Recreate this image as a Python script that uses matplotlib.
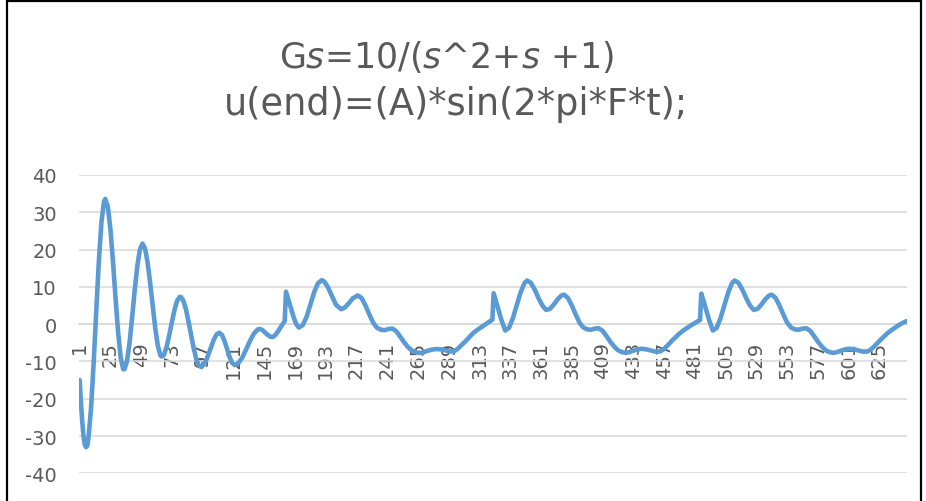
import matplotlib
matplotlib.use("Agg")
import matplotlib.pyplot as plt
from matplotlib.patches import Rectangle

# ---- data ----
title_line1 = r"G$s$=10/($s$^2+$s$ +1)"
title_line2 = "u(end)=(A)*sin(2*pi*F*t);"

n_categories = 646

sample_index = [
    1, 2, 3, 4, 5, 6, 7, 8, 10, 12, 14, 16, 18, 20, 21, 23, 25, 27, 29, 31, 33, 35, 36,
    38, 40, 42, 44, 46, 48, 50, 52, 54, 56, 58, 60, 62, 64, 65, 66, 67, 69, 71, 73, 75,
    77, 79, 80, 82, 84, 86, 88, 90, 92, 94, 96, 98, 100, 102, 104, 106, 108, 110, 112,
    114, 116, 118, 120, 122, 125, 128, 131, 134, 137, 140, 142, 144, 147, 150, 152, 154,
    156, 158, 160, 161, 162, 165, 168, 170, 172, 175, 178, 181, 184, 187, 190, 192, 195,
    198, 201, 205, 208, 211, 214, 218, 221, 224, 227, 230, 233, 236, 239, 242, 245, 248,
    251, 254, 257, 260, 263, 266, 269, 272, 275, 278, 281, 284, 287, 290, 293, 296, 299,
    302, 305, 308, 311, 314, 317, 320, 323, 324, 327, 330, 333, 336, 339, 342, 345, 348,
    350, 353, 356, 359, 362, 365, 368, 371, 374, 377, 379, 382, 385, 388, 391, 394, 397,
    400, 403, 406, 409, 412, 415, 418, 421, 424, 427, 430, 433, 436, 439, 442, 445, 448,
    451, 454, 457, 460, 463, 466, 469, 472, 475, 478, 481, 484, 485, 486, 489, 492, 495,
    498, 501, 504, 507, 510, 512, 515, 518, 521, 524, 527, 530, 533, 536, 539, 541, 544,
    547, 550, 553, 556, 559, 562, 565, 568, 571, 574, 577, 580, 583, 586, 589, 592, 595,
    598, 601, 604, 607, 610, 613, 616, 619, 622, 625, 628, 631, 634, 637, 640, 643, 646,
]

response = [
    -15, -21, -26, -30, -32.3, -33, -32.6, -30.1, -22.0, -10.0, 3.8, 17.0, 27.3, 32.9, 33.6,
    31.5, 25.5, 16.8, 7.0, -2.1, -8.9, -12.1, -12.1,
    -9.8, -4.8, 2.0, 9.2, 15.6, 20.0, 21.6, 20.3, 16.6, 11.1, 4.9, -1.1, -5.8, -8.4, -8.7,
    -8.5, -8.0, -5.9, -2.8, 0.6, 3.8,
    6.2, 7.3, 7.3, 6.2, 3.9, 0.6, -3.0, -6.5, -9.4, -11.1, -11.5, -10.8, -9.5, -7.6, -5.7,
    -3.9, -2.7, -2.3, -2.9,
    -4.5, -6.65, -8.8, -10.4, -11.0, -10.4, -8.9, -6.7, -4.4, -2.5, -1.4, -1.3, -1.7, -2.7,
    -3.4, -3.4, -2.8,
    -1.8, -0.7, 0.3, 0.8, 8.7, 5.2, 1.8, 0.0, -0.9, -0.3, 1.9, 5.2, 8.6, 11.0, 11.8, 11.4, 9.7,
    7.4, 5.2, 4.0, 4.5, 5.6, 6.9, 7.7, 7.0, 5.0, 2.6, 0.4, -1.0, -1.5, -1.6, -1.3, -1.2, -1.9,
    -3.3, -4.8, -6.1, -7.0, -7.5, -7.7, -7.6, -7.2, -6.9, -6.7, -6.7, -6.8, -7.1, -7.3, -7.3,
    -6.6, -5.6,
    -4.6, -3.5, -2.4, -1.6, -0.9, -0.2, 0.5, 1.2, 8.3, 4.8, 1.2, -1.7, -1.0, 1.6, 5.0, 8.5,
    11.0,
    11.7, 11.1, 9.3, 7.0, 5.0, 3.8, 4.1, 5.3, 6.7, 7.7, 7.9, 7.0, 5.0, 2.6, 0.4, -0.9, -1.4,
    -1.5, -1.2, -1.1, -1.8, -3.2, -4.7, -6.0, -7.0, -7.5, -7.7, -7.5, -7.1, -6.8, -6.6, -6.7,
    -6.9, -7.2,
    -7.4, -7.3, -6.6, -5.6, -4.5, -3.5, -2.5, -1.7, -1.0, -0.3, 0.3, 0.9, 1.1, 8.2, 4.8, 1.2,
    -1.7,
    -1.0, 1.6, 5.0, 8.5, 11.0, 11.7, 11.1, 9.3, 7.0, 5.0, 3.8, 4.1, 5.3, 6.7, 7.7, 7.9, 7.0,
    5.0, 2.6, 0.4, -0.9, -1.4, -1.5, -1.2, -1.1, -1.8, -3.2, -4.7, -6.0, -7.0, -7.5, -7.7,
    -7.5, -7.1,
    -6.8, -6.6, -6.7, -6.9, -7.2, -7.4, -7.3, -6.6, -5.6, -4.5, -3.5, -2.5, -1.7, -1.0, -0.3,
    0.3, 0.8,
]

x_tick_positions = [1, 25, 49, 73, 97, 121, 145, 169, 193, 217, 241, 265, 289, 313, 337,
                    361, 385, 409, 433, 457, 481, 505, 529, 553, 577, 601, 625]
y_tick_values = [-40, -30, -20, -10, 0, 10, 20, 30, 40]

# ---- style ----
plt.rcParams["font.family"] = ["DejaVu Sans"]
plt.rcParams["axes.unicode_minus"] = False
text_color = "#595959"
grid_color = "#d9d9d9"
line_color = "#5B9BD5"

fig = plt.figure(figsize=(9.26, 5.02), dpi=100)
ax = fig.add_axes([79 / 926, 27.7 / 502, 828 / 926, 298.3 / 502])

ax.plot(sample_index, response, color=line_color, lw=3.3,
        solid_joinstyle="round", solid_capstyle="round", zorder=3)

ax.set_xlim(0.5, n_categories + 0.5)
ax.set_ylim(-40, 40)
ax.set_yticks(y_tick_values)
ax.set_yticklabels([str(v) for v in y_tick_values])
ax.yaxis.grid(True, color=grid_color, lw=1.1)
ax.set_axisbelow(True)

for s in ax.spines.values():
    s.set_visible(False)
ax.spines["bottom"].set_visible(True)
ax.spines["bottom"].set_position(("data", 0))
ax.spines["bottom"].set_color(grid_color)
ax.spines["bottom"].set_linewidth(1.1)

ax.set_xticks(x_tick_positions)
ax.set_xticklabels([str(v) for v in x_tick_positions], rotation=90)
ax.tick_params(axis="x", length=0, pad=12, labelsize=14, labelcolor=text_color)
ax.tick_params(axis="y", length=0, pad=16, labelsize=14, labelcolor=text_color)

fig.text(447 / 926, 1 - 68 / 502, title_line1, ha="center", va="baseline",
         fontsize=25, color=text_color)
fig.text(456 / 926, 1 - 115 / 502, title_line2, ha="center", va="baseline",
         fontsize=26.5, color=text_color)

fig.add_artist(Rectangle((7 / 926, -0.02), (921 - 7) / 926, 1.02 - 1.5 / 502,
                         transform=fig.transFigure, fill=False, ec="black", lw=1.6))

fig.savefig("out.png", dpi=100)
